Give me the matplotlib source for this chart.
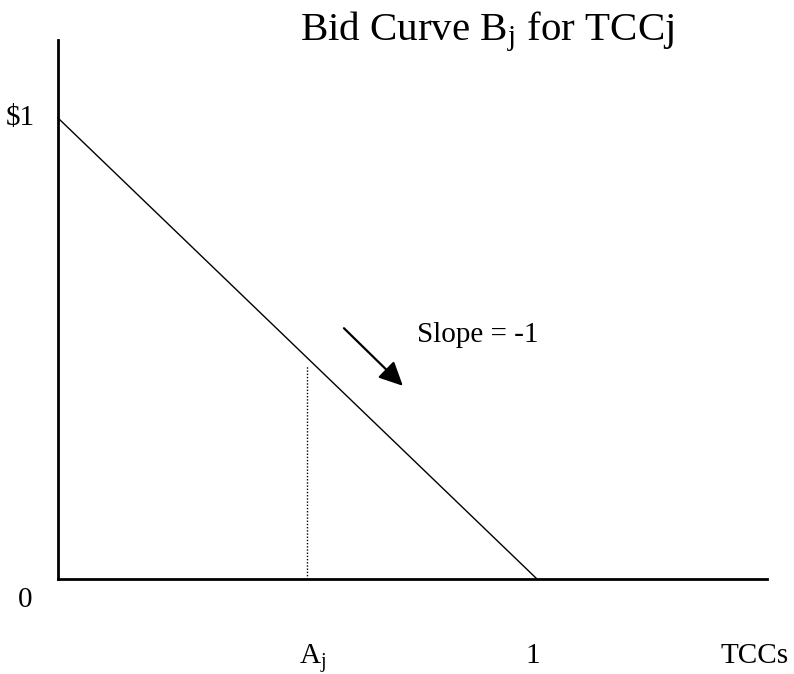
import matplotlib
matplotlib.use("Agg")
import matplotlib.pyplot as plt

# Data (in chart units)
curve_x = [0.0, 1.0]
curve_y = [1.0, 0.0]
aj_x = 0.52
aj_top = 0.464
arrow_start = (0.597, 0.544)
arrow_end = (0.720, 0.419)

plt.rcParams['font.family'] = ['Liberation Serif', 'DejaVu Serif']
plt.rcParams['mathtext.fontset'] = 'custom'
plt.rcParams['mathtext.rm'] = 'Liberation Serif'
plt.rcParams['mathtext.it'] = 'Liberation Serif:italic'

W, H = 794, 674
fig = plt.figure(figsize=(W / 100, H / 100), dpi=100)
left, right, top, bottom = 58, 767, 40, 579
ax = fig.add_axes([left / W, (H - bottom) / H, (right - left) / W, (bottom - top) / H])
xmax = (right - left) / 479
ymax = (bottom - top) / 461
ax.set_xlim(0, xmax)
ax.set_ylim(0, ymax)
for s in ['top', 'right']:
    ax.spines[s].set_visible(False)
for s in ['left', 'bottom']:
    ax.spines[s].set_linewidth(2.0)
ax.set_xticks([])
ax.set_yticks([])
ax.patch.set_alpha(0)

ax.plot(curve_x, curve_y, color='black', lw=1.0, clip_on=False)
ax.plot([aj_x, aj_x], [0, aj_top], color='black', lw=1.0, ls=(0, (1, 1.3)))

ax.annotate('', xy=arrow_end, xytext=arrow_start,
            arrowprops=dict(arrowstyle='-|>,head_length=1.45,head_width=0.7',
                            color='black', lw=1.6, shrinkA=0, shrinkB=0))

fs = 21
ax.text(0.749, 0.514, 'Slope = -1', fontsize=fs, ha='left', va='baseline')
ax.text(-0.048, 1.0, '$1', fontsize=fs, ha='right', va='center', clip_on=False)
ax.text(-0.069, -0.0456, '0', fontsize=fs, ha='center', va='center', clip_on=False)
ax.text(0.503, -0.183, r'A$_{\mathrm{j}}$', fontsize=fs, ha='left', va='baseline', clip_on=False)
ax.text(0.992, -0.183, '1', fontsize=fs, ha='center', va='baseline', clip_on=False)
ax.text(1.384, -0.183, 'TCCs', fontsize=fs, ha='left', va='baseline', clip_on=False)
ax.text(0.505, ymax, r'Bid Curve B$_{\mathrm{j}}$ for TCCj', fontsize=29.5,
        ha='left', va='baseline', clip_on=False)

fig.savefig('out.png', dpi=100)
